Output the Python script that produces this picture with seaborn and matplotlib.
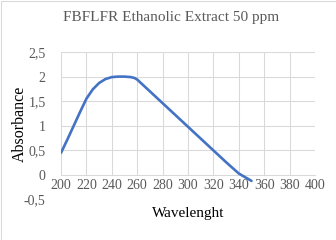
import matplotlib
matplotlib.use("Agg")
import matplotlib.pyplot as plt
import seaborn as sns
import pandas as pd
from matplotlib.patches import Rectangle

# values
wavelength = [200, 205, 210, 215, 220, 225, 230, 235, 240, 245, 250, 255, 258, 260,
              270, 280, 290, 300, 310, 320, 330, 340, 350]
absorbance = [0.45, 0.72, 1.0, 1.28, 1.55, 1.74, 1.87, 1.95, 1.99, 2.0, 2.0, 1.99, 1.97, 1.94,
              1.70, 1.46, 1.22, 0.98, 0.74, 0.50, 0.26, 0.03, -0.12]
x_ticks = [200, 220, 240, 260, 280, 300, 320, 340, 360, 380, 400]
y_ticks = [-0.5, 0, 0.5, 1, 1.5, 2, 2.5]

df = pd.DataFrame({"Wavelenght": wavelength, "Absorbance": absorbance})

sns.set_style("white")
plt.rcParams["font.family"] = ["Liberation Serif", "DejaVu Serif"]

fig = plt.figure(figsize=(3.36, 2.4), dpi=100)
ax = fig.add_axes([61 / 336, 1 - 199.6 / 240, 254 / 336, 147.6 / 240])

# gridlines (only above zero, like the original)
for y in [0.5, 1, 1.5, 2, 2.5]:
    ax.plot([200, 400], [y, y], color="#d9d9d9", lw=0.75, zorder=0)
for x in x_ticks:
    ax.plot([x, x], [0, 2.5], color="#d9d9d9", lw=0.75, zorder=0)

sns.lineplot(data=df, x="Wavelenght", y="Absorbance", ax=ax, color="#4472c4",
             linewidth=1.9, zorder=3)

ax.set_xlim(200, 400)
ax.set_ylim(-0.5, 2.5)
for s in ["top", "right", "left"]:
    ax.spines[s].set_visible(False)
ax.spines["bottom"].set_position(("data", 0))
ax.spines["bottom"].set_color("#d9d9d9")
ax.spines["bottom"].set_linewidth(0.75)

ax.set_xticks(x_ticks)
ax.set_xticklabels([str(v) for v in x_ticks])
ax.set_yticks(y_ticks)
ax.set_yticklabels([("%g" % v).replace(".", ",") for v in y_ticks])
ax.tick_params(axis="x", length=0, pad=3, labelsize=10, colors="#595959")
ax.tick_params(axis="y", length=0, pad=11, labelsize=10, colors="#595959")

ax.set_xlabel("")
ax.set_ylabel("")
fig.text(188 / 336, 1 - 213 / 240, "Wavelenght", ha="center", va="center",
         fontsize=11, color="#000000")
fig.text(20 / 336, 1 - 124 / 240, "Absorbance", ha="center", va="center",
         rotation=90, fontsize=11.5, color="#000000")
fig.text(171 / 336, 1 - 17 / 240, "FBFLFR Ethanolic Extract 50 ppm", ha="center",
         va="center", fontsize=11, color="#595959")

fig.patches.append(Rectangle((0.5 / 336, 0.5 / 240), 1 - 1 / 336, 1 - 1 / 240,
                             transform=fig.transFigure, fill=False,
                             edgecolor="#d9d9d9", lw=0.75))

fig.savefig("out.png", dpi=100)
